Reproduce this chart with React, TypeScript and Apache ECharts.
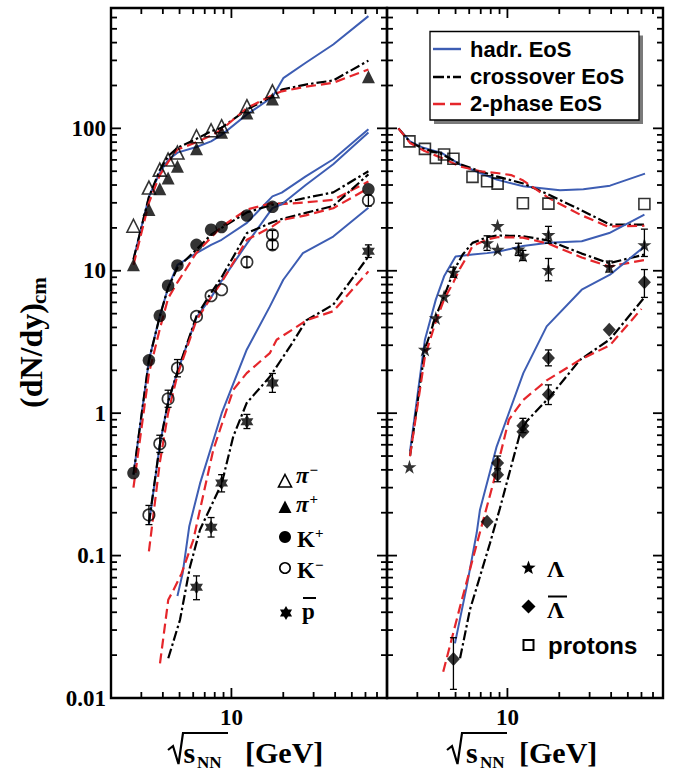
import React, { useEffect, useRef } from "react";
import * as echarts from "echarts";

// ---------- measured yields: [sqrt(sNN) GeV, dN/dy, (err low), (err high)] ----------
const piMinusData = [
  [2.7, 20.7], [3.32, 38.4], [3.84, 51.3], [4.29, 60.4], [4.86, 67.6],
  [6.27, 88], [7.62, 97], [8.77, 103.5], [12.3, 143], [17.3, 182],
];
const piPlusData = [
  [2.7, 11.0], [3.32, 26.9], [3.84, 37.6], [4.29, 44.9], [4.86, 54.2],
  [6.27, 71.8], [8.77, 94], [12.3, 128], [17.3, 161], [62.4, 230],
];
const kPlusData = [
  [2.7, 0.38], [3.32, 2.35], [3.84, 4.83], [4.29, 7.86], [4.86, 10.9],
  [6.27, 15.2], [7.62, 19.4], [8.77, 20.3], [12.3, 24.4], [17.3, 28.1], [62.4, 37.3],
];
const kMinusData = [
  [3.32, 0.193, 0.165, 0.225], [3.84, 0.61, 0.53, 0.7], [4.29, 1.26, 1.1, 1.45],
  [4.86, 2.07, 1.8, 2.38], [6.27, 4.78], [7.62, 6.68], [8.77, 7.36],
  [12.3, 11.5, 10.6, 12.5], [17.3, 17.9, 16.6, 19.2], [17.3, 15.2, 14.1, 16.3],
  [62.4, 31.2, 28.5, 34],
];
const pBarData = [
  [6.27, 0.06, 0.049, 0.072], [7.62, 0.158, 0.135, 0.185], [8.77, 0.323, 0.28, 0.37],
  [12.3, 0.87, 0.78, 0.98], [17.3, 1.63, 1.4, 1.9], [62.4, 13.7, 12.4, 15.2],
];
const protonData = [
  [2.7, 81], [3.32, 71.8], [3.84, 62], [4.29, 65.5], [4.86, 61.1], [6.27, 45.6],
  [7.62, 42.5], [8.77, 40.9], [12.3, 29.8], [17.3, 29.6], [62.4, 29.4],
];
const lambdaData = [
  [2.7, 0.42], [3.32, 2.8], [3.84, 4.66], [4.29, 6.6], [4.86, 9.75, 9.0, 10.6],
  [7.62, 15.7, 13.9, 17.6], [8.77, 20.7], [8.77, 14.1], [11.6, 14.2, 12.8, 15.6],
  [12.3, 12.8, 11.8, 13.9], [17.3, 17.9, 15.6, 20.5], [17.3, 10.2, 8.5, 12.2],
  [39, 10.7, 9.8, 11.7], [62.4, 15.2, 12.6, 19.6],
];
const lambdaBarData = [
  [4.86, 0.0188, 0.0115, 0.0265], [7.62, 0.173], [8.77, 0.446, 0.4, 0.5],
  [8.77, 0.369, 0.33, 0.41], [12.3, 0.815, 0.73, 0.92], [12.3, 0.74],
  [17.3, 2.44, 2.15, 2.78], [17.3, 1.35, 1.15, 1.58], [39, 3.85], [62.4, 8.3, 6.5, 10.2],
];

// ---------- transport + hydro model curves ----------
const piHadr = [[2.7, 12], [3.32, 33], [3.84, 49], [4.29, 60], [4.86, 67.5], [6.27, 74], [7.62, 81], [8.77, 90], [12.3, 125], [17.3, 166], [20, 225], [27, 289], [39, 388], [62.4, 614]];
const piCross = [[2.7, 12], [3.32, 33], [3.84, 51], [4.29, 63.7], [4.86, 73], [6.27, 84.4], [7.62, 95.4], [8.77, 100.8], [12.3, 135.5], [17.3, 168], [19.6, 187], [27, 203], [39, 217], [62.4, 299]];
const pi2Ph = [[2.7, 11], [3.32, 30], [3.84, 47], [4.29, 58], [4.86, 71], [6.27, 80], [7.62, 89], [8.77, 98], [12.3, 139], [17.3, 171], [19.6, 182], [27, 196], [39, 209], [62.4, 259]];

const kpHadr = [[2.7, 0.37], [3.32, 2.35], [3.84, 4.8], [4.29, 7.6], [4.86, 11], [6.27, 13.3], [7.62, 15.2], [8.77, 16.5], [12.3, 21.7], [17.3, 33.3], [19.6, 35.4], [27, 46], [39, 60.7], [62.4, 98.6]];
const kpCross = [[2.7, 0.37], [3.32, 2.35], [3.84, 4.8], [4.29, 7.6], [4.86, 10.5], [6.27, 14.1], [7.62, 17.9], [8.77, 20], [12.3, 25.7], [17.3, 29.1], [19.6, 29.8], [27, 32.5], [39, 35.5], [62.4, 50]];
const kp2Ph = [[2.7, 0.3], [3.32, 1.9], [3.84, 3.9], [4.29, 6.4], [4.86, 8.3], [6.27, 13.4], [7.62, 17.1], [8.77, 20.4], [12.3, 26.9], [17.3, 29.9], [19.6, 29.4], [27, 30.2], [39, 31.5], [62.4, 42.3]];

const kmHadr = [[3.32, 0.165], [3.84, 0.6], [4.29, 1.2], [4.86, 1.95], [6.27, 4.7], [7.62, 6.5], [8.77, 8.5], [12.3, 15.5], [17.3, 27.5], [19.6, 29.3], [27, 40], [39, 56], [62.4, 93.4]];
const kmCross = [[3.32, 0.17], [3.84, 0.6], [4.29, 1.2], [4.86, 1.95], [6.27, 4.8], [7.62, 7.0], [8.77, 9.0], [12.3, 18.4], [17.3, 21.9], [19.6, 23.1], [27, 25.5], [39, 28.5], [62.4, 47.5]];
const km2Ph = [[3.32, 0.107], [3.84, 0.45], [4.29, 1.0], [4.86, 1.85], [6.27, 4.5], [7.62, 6.5], [8.77, 8.3], [12.3, 16.5], [17.3, 20.5], [19.6, 22.7], [27, 24.5], [39, 27.5], [62.4, 38]];

const pbHadr = [[4.86, 0.052], [5.21, 0.075], [5.69, 0.16], [6.57, 0.32], [8.78, 1.0], [12.27, 2.79], [16.7, 5.6], [20, 8.65], [26, 13.3], [39, 17.4], [62.4, 27.7]];
const pbCross = [[4.3, 0.019], [5.03, 0.0354], [5.75, 0.0836], [6.57, 0.152], [8.78, 0.32], [10.25, 0.686], [12.27, 1.18], [16.7, 1.8], [21.9, 2.94], [27.3, 4.5], [39, 5.78], [62.4, 12.6]];
const pb2Ph = [[3.85, 0.0175], [4.3, 0.049], [4.6, 0.057], [5.14, 0.075], [6.0, 0.128], [7.84, 0.55], [10.25, 1.46], [12.27, 1.91], [16.7, 2.64], [18.3, 3.28], [22.9, 3.9], [27.3, 4.5], [39, 5.2], [62.4, 9.9]];

const prHadr = [[2.33, 100], [2.72, 81], [3.25, 73], [4.15, 67.3], [5.31, 55.7], [6.93, 48.6], [8.66, 43.7], [12.36, 39.2], [20.2, 36.7], [27.6, 37.3], [39.4, 39.6], [62.9, 48.1]];
const prCross = [[2.33, 100], [2.72, 80], [3.25, 72], [4.15, 66], [5.31, 56], [6.93, 50], [8.66, 46], [12.36, 41], [17.3, 34.3], [26.4, 26.9], [39.4, 21.1], [62.4, 21.1]];
const pr2Ph = [[2.33, 100], [2.72, 79], [3.25, 70], [4.15, 62], [5.31, 54], [6.93, 50], [8.66, 48.6], [10.5, 47], [12.36, 43], [17.3, 32.5], [26.4, 24.8], [38, 20.5], [62.4, 20.7]];

const laHadr = [[2.72, 0.54], [3.32, 3.28], [3.84, 6.27], [4.29, 9.14], [5.0, 12.6], [6.27, 13], [7.62, 13.3], [8.77, 13.6], [12.3, 14.9], [17.3, 15.7], [27, 16.1], [39, 18.4], [62.4, 24.8]];
const laCross = [[2.72, 0.5], [3.32, 2.8], [3.84, 4.8], [4.29, 6.6], [4.86, 9.9], [5.5, 13], [6.27, 15.7], [7.62, 17.2], [8.77, 17.7], [12.3, 17.5], [17.3, 16.3], [27, 13.2], [39, 11.3], [62.4, 13]];
const la2Ph = [[2.72, 0.5], [3.32, 2.5], [3.84, 4.4], [4.29, 6.3], [4.86, 8.3], [5.31, 10.4], [5.92, 13], [6.27, 14.9], [7.62, 16.6], [8.77, 17.2], [12.3, 17.1], [17.3, 15.5], [27, 12.4], [39, 10.7], [62.4, 11.9]];

const lbHadr = [[4.96, 0.0242], [5.8, 0.0605], [6.63, 0.144], [6.93, 0.21], [8.66, 0.583], [12.37, 1.91], [16.9, 4.07], [27, 7.36], [39.4, 9.39], [62.4, 14.8]];
const lbCross = [[5.31, 0.019], [6.06, 0.0417], [7.92, 0.122], [9.05, 0.215], [11.83, 0.72], [12.9, 0.874], [17.7, 1.31], [26.4, 2.37], [39.4, 3.3], [63, 6.6]];
const lb2Ph = [[4.24, 0.0153], [5.31, 0.0438], [6.34, 0.098], [8.26, 0.32], [10.2, 0.9], [12.37, 1.24], [16.9, 1.7], [26.4, 2.37], [39.4, 3.0], [60, 5.4]];

// ---------- axes ----------
const X_MIN = 2;
const X_MAX = 80;
const Y_MIN = 0.01;
const Y_MAX = 700;
const xMajorTicks = [10];
const xMinorTicks = [3, 4, 5, 6, 7, 8, 9, 20, 30, 40, 50, 60, 70];
const yMajorTicks = [0.1, 1, 10, 100];
const yMinorTicks = [
  0.02, 0.03, 0.04, 0.05, 0.06, 0.07, 0.08, 0.09,
  0.2, 0.3, 0.4, 0.5, 0.6, 0.7, 0.8, 0.9,
  2, 3, 4, 5, 6, 7, 8, 9,
  20, 30, 40, 50, 60, 70, 80, 90,
  200, 300, 400, 500, 600,
];
const yTickLabels = ["0.01", "0.1", "1", "10", "100"];
const xTickLabels = ["10"];

const SERIF = '"Liberation Serif", "Times New Roman", serif';
const SANS = '"Liberation Sans", Arial, sans-serif';
const BLUE = "#3d5db3";
const RED = "#e5262b";
const DASH_DOT = [10, 3, 2.5, 3];
const DASHED = [10, 5];

const STAR5 =
  "path://M50,0 L61.23,34.55 L97.55,34.55 L68.17,55.9 L79.39,90.45 L50,69.1 L20.61,90.45 L31.83,55.9 L2.45,34.55 L38.77,34.55 Z";
const STAR6 = "path://M0,-10 L8.66,5 L-8.66,5 Z M0,10 L-8.66,-5 L8.66,-5 Z";

function fmtLog(labels: string[], firstExp: number) {
  return (v: number) => {
    const l = Math.log10(v);
    const r = Math.round(l);
    if (Math.abs(l - r) > 1e-6) return "";
    return labels[r - firstExp] ?? "";
  };
}

function renderTick(params: any, api: any) {
  const cs = params.coordSys;
  const kind = api.value(2);
  const p = api.coord([api.value(0), api.value(1)]);
  const len = kind === 0 || kind === 2 ? 10 : 6;
  const style = { stroke: "#000", lineWidth: 1.8 };
  if (kind < 2) {
    const b = cs.y + cs.height;
    return {
      type: "group",
      children: [
        { type: "line", shape: { x1: p[0], y1: b, x2: p[0], y2: b - len }, style },
        { type: "line", shape: { x1: p[0], y1: cs.y, x2: p[0], y2: cs.y + len }, style },
      ],
    };
  }
  const r = cs.x + cs.width;
  return {
    type: "group",
    children: [
      { type: "line", shape: { x1: cs.x, y1: p[1], x2: cs.x + len, y2: p[1] }, style },
      { type: "line", shape: { x1: r, y1: p[1], x2: r - len, y2: p[1] }, style },
    ],
  };
}

function renderErr(_params: any, api: any) {
  const x = api.value(0);
  const a = api.coord([x, api.value(1)]);
  const b = api.coord([x, api.value(2)]);
  const c = 3.5;
  const style = { stroke: "#000", lineWidth: 1.3 };
  return {
    type: "group",
    children: [
      { type: "line", shape: { x1: a[0], y1: a[1], x2: b[0], y2: b[1] }, style },
      { type: "line", shape: { x1: a[0] - c, y1: a[1], x2: a[0] + c, y2: a[1] }, style },
      { type: "line", shape: { x1: b[0] - c, y1: b[1], x2: b[0] + c, y2: b[1] }, style },
    ],
  };
}

const tickData = [
  ...xMajorTicks.map((v) => [v, Y_MIN, 0]),
  ...xMinorTicks.map((v) => [v, Y_MIN, 1]),
  ...yMajorTicks.map((v) => [X_MIN, v, 2]),
  ...yMinorTicks.map((v) => [X_MIN, v, 3]),
];

function line(data: number[][], g: number, color: string, type: any, width = 2) {
  return {
    type: "line",
    xAxisIndex: g,
    yAxisIndex: g,
    data,
    symbol: "none",
    showSymbol: false,
    silent: true,
    z: 2,
    lineStyle: { color, width, type, cap: "butt" },
  };
}

function models(h: number[][], c: number[][], t: number[][], g: number) {
  return [
    line(h, g, BLUE, "solid", 2),
    line(c, g, "#000", DASH_DOT, 2.2),
    line(t, g, RED, DASHED, 2.2),
  ];
}

function marks(data: number[][], g: number, symbol: string, size: any, open = false) {
  return {
    type: "scatter",
    xAxisIndex: g,
    yAxisIndex: g,
    data: data.map((p) => [p[0], p[1]]),
    symbol,
    symbolSize: size,
    silent: true,
    z: 3,
    itemStyle: open
      ? { color: "rgba(0,0,0,0)", borderColor: "#000", borderWidth: 1.6 }
      : { color: "#000", borderWidth: 0 },
  };
}

function errs(data: number[][], g: number) {
  return {
    type: "custom",
    xAxisIndex: g,
    yAxisIndex: g,
    data: data.filter((p) => p.length === 4).map((p) => [p[0], p[2], p[3]]),
    encode: { x: 0, y: [1, 2] },
    renderItem: renderErr,
    silent: true,
    z: 4,
  };
}

function ticks(g: number) {
  return {
    type: "custom",
    xAxisIndex: g,
    yAxisIndex: g,
    data: tickData,
    encode: { x: 0, y: 1 },
    renderItem: renderTick,
    silent: true,
    clip: false,
    z: 6,
  };
}

// ---------- decorations: legends and axis titles ----------
function text(x: number, y: number, t: string, size: number, o: any = {}) {
  const align = o.align || "left";
  return {
    type: "text",
    x,
    y,
    silent: true,
    z: 100,
    style: {
      text: t,
      fill: "#000",
      fontFamily: o.family || SERIF,
      fontSize: size,
      fontWeight: o.weight || "bold",
      fontStyle: o.italic ? "italic" : "normal",
      textAlign: align,
      align,
      textVerticalAlign: "middle",
      verticalAlign: "middle",
    },
  };
}

function segment(x1: number, y1: number, x2: number, y2: number, stroke: string, lineWidth: number, lineDash?: number[]) {
  return {
    type: "line",
    silent: true,
    z: 100,
    shape: { x1, y1, x2, y2 },
    style: { stroke, lineWidth, lineDash: lineDash || null },
  };
}

function starPoints(cx: number, cy: number, r: number, n: number, inner: number) {
  const pts: number[][] = [];
  for (let i = 0; i < n * 2; i++) {
    const rr = i % 2 === 0 ? r : r * inner;
    const a = -Math.PI / 2 + (i * Math.PI) / n;
    pts.push([cx + rr * Math.cos(a), cy + rr * Math.sin(a)]);
  }
  return pts;
}

function poly(points: number[][], fill: string, stroke?: string, lineWidth = 1.6) {
  return {
    type: "polygon",
    silent: true,
    z: 100,
    shape: { points },
    style: { fill, stroke: stroke || null, lineWidth },
  };
}

function sqrtTitle(o: { rad: number; s: number; nn: number; ovEnd: number; gev: number }) {
  return [
    {
      type: "polyline",
      silent: true,
      z: 100,
      shape: {
        points: [
          [o.rad, 750],
          [o.rad + 5, 746],
          [o.rad + 10.5, 764],
          [o.rad + 15, 733],
          [o.ovEnd, 733],
        ],
      },
      style: { stroke: "#000", lineWidth: 2.2, fill: null },
    },
    text(o.s, 752, "s", 30),
    text(o.nn, 762, "NN", 17),
    text(o.gev, 752, "[GeV]", 30),
  ];
}

function buildGraphics() {
  const g: any[] = [];
  // line-style legend box
  g.push({ type: "rect", silent: true, z: 99, shape: { x: 434, y: 35.5, width: 209, height: 88.5 }, style: { fill: "#7a7a7a" } });
  g.push({ type: "rect", silent: true, z: 99, shape: { x: 430, y: 31.5, width: 209, height: 88.5 }, style: { fill: "#fff", stroke: "#000", lineWidth: 1.3 } });
  g.push(segment(433, 49, 461, 49, BLUE, 2.4));
  g.push(segment(433, 77, 461, 77, "#000", 2.4, [11, 3, 3, 3]));
  g.push(segment(433, 104, 461, 104, RED, 2.4, [12, 5]));
  g.push(text(470, 49.5, "hadr. EoS", 22, { family: SANS }));
  g.push(text(470, 76.5, "crossover EoS", 22, { family: SANS }));
  g.push(text(470, 103.5, "2-phase EoS", 22, { family: SANS }));

  // particle legend, left panel
  const sx = 285;
  g.push(poly([[sx, 474.5], [sx + 6.5, 487], [sx - 6.5, 487]], "none", "#000", 1.6));
  g.push(text(296, 475.5, "π", 23, { italic: true }));
  g.push(text(309.5, 469.5, "−", 15));
  g.push(poly([[sx, 500.5], [sx + 6.5, 513], [sx - 6.5, 513]], "#000"));
  g.push(text(296, 504.5, "π", 23, { italic: true }));
  g.push(text(309.5, 498.5, "+", 15));
  g.push({ type: "circle", silent: true, z: 100, shape: { cx: sx, cy: 537, r: 6 }, style: { fill: "#000" } });
  g.push(text(297, 539, "K", 23));
  g.push(text(315, 533, "+", 15));
  g.push({ type: "circle", silent: true, z: 100, shape: { cx: sx, cy: 568, r: 5.2 }, style: { fill: "none", stroke: "#000", lineWidth: 1.6 } });
  g.push(text(297, 570.5, "K", 23));
  g.push(text(315, 564.5, "−", 15));
  g.push(poly(starPoints(sx + 1, 613, 7, 6, 0.58), "#000"));
  g.push(text(302, 611.5, "p", 23));
  g.push(segment(303, 598, 316, 598, "#000", 2));

  // particle legend, right panel
  const rx = 528.5;
  g.push(poly(starPoints(rx, 568, 7.5, 5, 0.42), "#000"));
  g.push(text(547, 569, "Λ", 24));
  g.push(poly([[rx, 599.5], [rx + 7, 606.5], [rx, 613.5], [rx - 7, 606.5]], "#000"));
  g.push(text(547, 610, "Λ", 24));
  g.push(segment(548, 596.5, 567, 596.5, "#000", 2));
  g.push({ type: "rect", silent: true, z: 100, shape: { x: rx - 5, y: 640, width: 10, height: 10 }, style: { fill: "none", stroke: "#000", lineWidth: 2 } });
  g.push(text(548, 645.5, "protons", 24, { family: SANS }));

  // axis titles
  g.push(...sqrtTitle({ rad: 168, s: 183.5, nn: 197, ovEnd: 228, gev: 245 }));
  g.push(...sqrtTitle({ rad: 447, s: 466, nn: 480, ovEnd: 507, gev: 519 }));
  g.push({
    type: "group",
    x: 31,
    y: 408,
    rotation: Math.PI / 2,
    silent: true,
    z: 100,
    children: [text(0, 0, "(dN/dy)", 32), text(104, 8, "cm", 21)],
  });
  return g;
}

function buildOption() {
  const grids = [
    { left: 111, top: 8, width: 276, height: 690 },
    { left: 387, top: 8, width: 276, height: 690 },
  ].map((gr) => ({
    ...gr,
    show: true,
    borderColor: "#000",
    borderWidth: 2.4,
    backgroundColor: "transparent",
    containLabel: false,
    outerBoundsMode: "none",
  }));

  const labelFont = { fontFamily: SERIF, fontWeight: "bold", fontSize: 23, color: "#000" };
  const xAxis = [0, 1].map((i) => ({
    type: "log",
    logBase: 10,
    gridIndex: i,
    min: X_MIN,
    max: X_MAX,
    axisLine: { show: false },
    axisTick: { show: false },
    minorTick: { show: false },
    splitLine: { show: false },
    axisLabel: {
      ...labelFont,
      margin: 19,
      verticalAlign: "middle",
      showMinLabel: false,
      showMaxLabel: false,
      formatter: fmtLog(xTickLabels, 1),
    },
  }));
  const yAxis = [0, 1].map((i) => ({
    type: "log",
    logBase: 10,
    gridIndex: i,
    min: Y_MIN,
    max: Y_MAX,
    axisLine: { show: false },
    axisTick: { show: false },
    minorTick: { show: false },
    splitLine: { show: false },
    axisLabel: {
      show: i === 0,
      ...labelFont,
      margin: 5,
      showMaxLabel: false,
      formatter: fmtLog(yTickLabels, -2),
    },
  }));

  const series: any[] = [
    // left panel: mesons and antiprotons
    ...models(piHadr, piCross, pi2Ph, 0),
    ...models(kpHadr, kpCross, kp2Ph, 0),
    ...models(kmHadr, kmCross, km2Ph, 0),
    ...models(pbHadr, pbCross, pb2Ph, 0),
    marks(piMinusData, 0, "triangle", 13, true),
    marks(piPlusData, 0, "triangle", 13),
    marks(kPlusData, 0, "circle", 12.5),
    marks(kMinusData, 0, "circle", 11.5, true),
    marks(pBarData, 0, STAR6, [13, 14]),
    errs(kMinusData, 0),
    errs(pBarData, 0),
    ticks(0),
    // right panel: baryons
    ...models(prHadr, prCross, pr2Ph, 1),
    ...models(laHadr, laCross, la2Ph, 1),
    ...models(lbHadr, lbCross, lb2Ph, 1),
    marks(protonData, 1, "rect", 11, true),
    marks(lambdaData, 1, STAR5, 14),
    marks(lambdaBarData, 1, "diamond", [13, 14]),
    errs(lambdaData, 1),
    errs(lambdaBarData, 1),
    ticks(1),
  ];

  return {
    animation: false,
    backgroundColor: "#fff",
    grid: grids,
    xAxis,
    yAxis,
    series,
    graphic: { elements: buildGraphics() },
  };
}

export default function App() {
  const ref = useRef<HTMLDivElement>(null);
  useEffect(() => {
    if (!ref.current) return;
    const chart = echarts.init(ref.current, undefined, { renderer: "svg", width: 685, height: 774 });
    chart.setOption(buildOption() as any);
    return () => chart.dispose();
  }, []);
  return (
    <div
      ref={ref}
      style={{ position: "absolute", left: 0, top: 0, width: 685, height: 774, background: "#fff" }}
    />
  );
}
